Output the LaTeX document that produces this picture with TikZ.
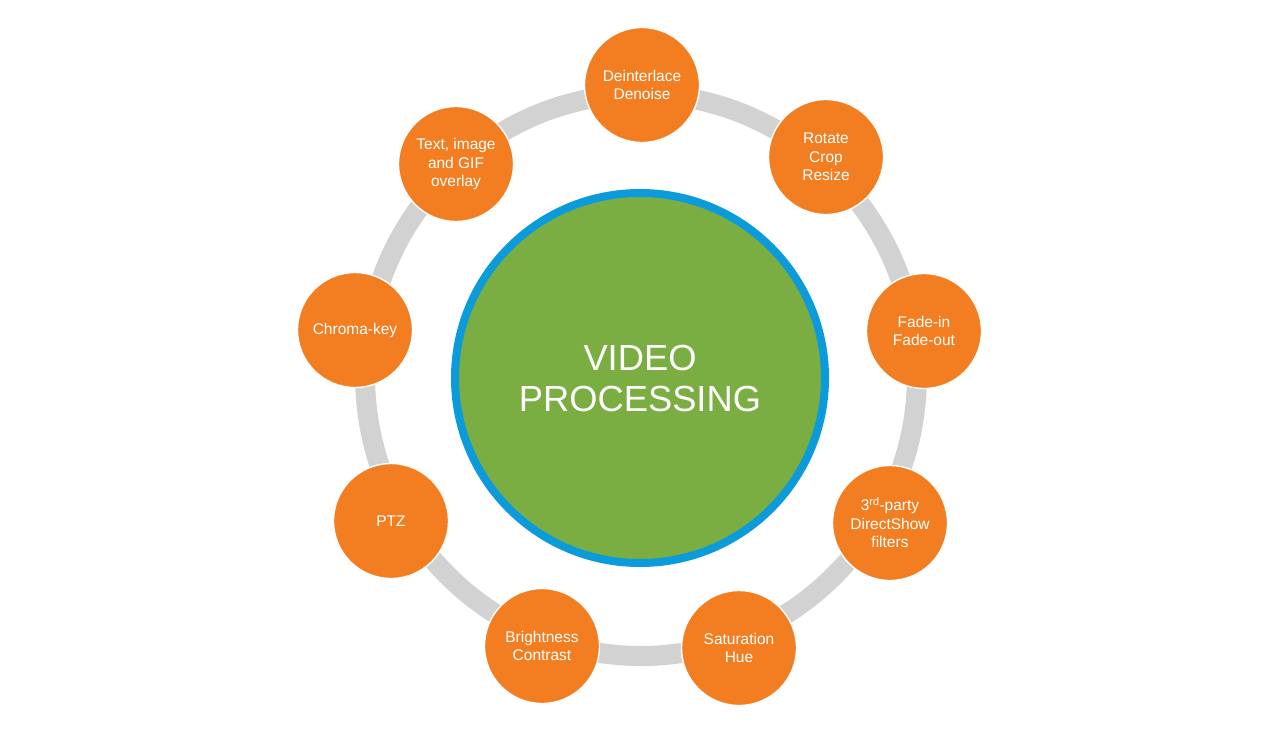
\documentclass[tikz,border=0pt]{standalone}
\usepackage{fontspec}
\setmainfont{Liberation Sans}
\definecolor{orng}{HTML}{F37E22}
\definecolor{grn}{HTML}{7AAE42}
\definecolor{blu}{HTML}{0B9ADA}
\definecolor{gry}{HTML}{D2D2D2}
\begin{document}
\begin{tikzpicture}[x=1pt,y=-1pt,
  feature/.style={circle, fill=orng, draw=white, line width=1.4pt, minimum size=115pt,
    inner sep=0pt, text=white, align=center, font=\fontsize{15.5}{18.5}\selectfont},
  hub/.style={circle, fill=grn, draw=blu, line width=8pt, minimum size=370pt,
    inner sep=0pt, text=white, align=center, font=\fontsize{36.3}{41}\selectfont},
  ringline/.style={draw=gry, line width=20pt}]
\fill[white] (0,0) rectangle (1280,737);
\useasboundingbox (0,0) rectangle (1280,737);
\coordinate (rc) at (641,375);
\draw[ringline] (rc) ellipse [x radius=276, y radius=281];
\node[hub] (hub) at (640,378) {VIDEO\\PROCESSING};
\node[feature] (deint) at (642,85) {Deinterlace\\Denoise};
\node[feature] (rot) at (826,157) {Rotate\\Crop\\Resize};
\node[feature] (fade) at (924,331) {Fade-in\\Fade-out};
\node[feature] (third) at (890,523) {3\textsuperscript{rd}-party\\DirectShow\\filters};
\node[feature] (sat) at (739,648) {Saturation\\Hue};
\node[feature] (bri) at (542,646) {Brightness\\Contrast};
\node[feature] (ptz) at (391,521) {PTZ};
\node[feature] (chroma) at (355,330) {Chroma-key};
\node[feature] (txt) at (456,164) {Text, image\\and GIF\\overlay};
\end{tikzpicture}
\end{document}
